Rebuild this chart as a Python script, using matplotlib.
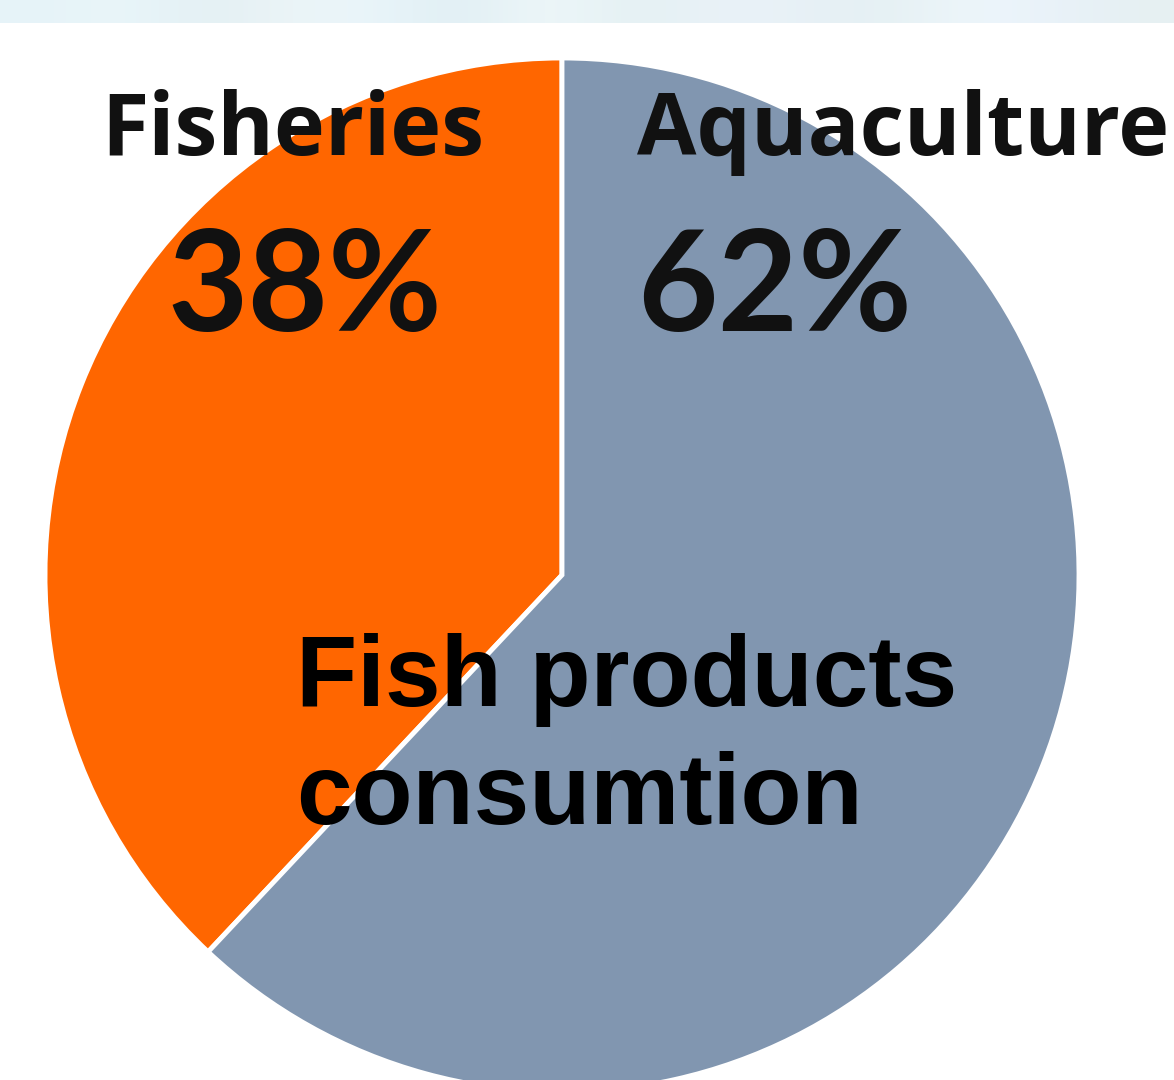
import matplotlib
matplotlib.use("Agg")
import matplotlib.pyplot as plt
import numpy as np
from matplotlib.colors import to_rgb

labels = ["Fisheries", "Aquaculture"]
shares = [38, 62]
colors = ["#FF6600", "#8196B0"]
title_lines = ["Fish products", "consumtion"]

W, H = 1174, 1080
fig = plt.figure(figsize=(W / 100, H / 100), dpi=100)
ax = fig.add_axes([0, 0, 1, 1])
ax.set_xlim(0, W)
ax.set_ylim(0, H)
ax.axis("off")

# decorative band at top
band = ["#e6f3f8", "#eaf6fa", "#e2eff3", "#edf5f7", "#e9f5fb", "#dfeef2",
        "#f0f8fb", "#e3f0f2", "#eaf2f8", "#e8f1f7", "#e4f0f2", "#eef6fb", "#e9f2fa", "#e6f0f2"]
arr = np.array([[to_rgb(c) for c in band]])
ax.imshow(arr, extent=(0, W, H - 23, H), aspect="auto", interpolation="bicubic", zorder=0)

cx, cy, r = 562, H - 575, 517
ax.pie(shares, colors=colors, startangle=90, counterclock=True,
       center=(cx, cy), radius=r, frame=True,
       wedgeprops=dict(edgecolor="white", linewidth=3.5))
ax.set_xlim(0, W)
ax.set_ylim(0, H)
ax.set_aspect("auto")
ax.axis("off")

lab_font = dict(family="Open Sans", weight="bold", color="#111111")
pct_font = dict(family="Lato", weight="bold", color="#111111")
ax.text(293, H - 132, labels[0], fontsize=62, ha="center", va="center", **lab_font)
ax.text(903, H - 132, labels[1], fontsize=62, ha="center", va="center", **lab_font)
ax.text(305, H - 290, f"{shares[0]}%", fontsize=100, ha="center", va="center", **pct_font)
ax.text(775, H - 290, f"{shares[1]}%", fontsize=100, ha="center", va="center", **pct_font)

ax.text(296, H - 680, title_lines[0], fontsize=72, ha="left", va="center",
        family="Liberation Sans", weight="bold", color="black")
ax.text(296, H - 798, title_lines[1], fontsize=72, ha="left", va="center",
        family="Liberation Sans", weight="bold", color="black")

fig.savefig("out.png", dpi=100)
